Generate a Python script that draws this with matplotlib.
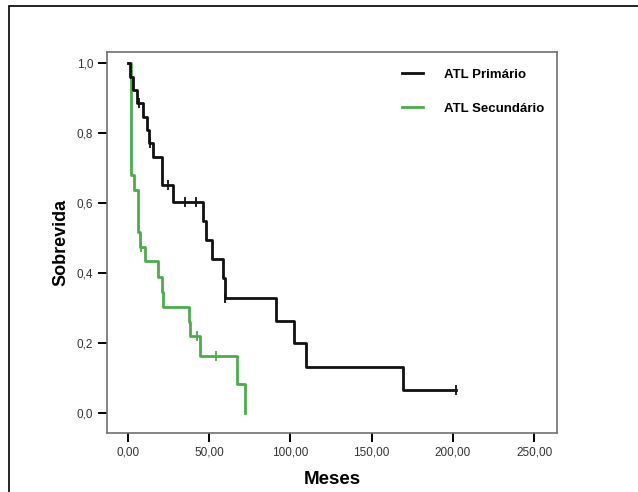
import numpy as np
import matplotlib
matplotlib.use('Agg')
import matplotlib.pyplot as plt
from matplotlib.patches import Rectangle
from matplotlib.ticker import FuncFormatter

plt.rcParams['font.family'] = ['Liberation Sans', 'DejaVu Sans']

# Kaplan-Meier steps (time in months, survival after the drop)
t_pri = [0, 1.2, 3.5, 5.5, 9.2, 11.7, 13.3, 15.4, 20.9, 27.7, 46.1, 48.1, 51.6,
         58.4, 59.8, 91.1, 102.4, 109.4, 169.4, 201.8]
s_pri = [1.0, 0.962, 0.924, 0.887, 0.847, 0.81, 0.771, 0.731, 0.652, 0.605, 0.55,
         0.495, 0.44, 0.386, 0.33, 0.264, 0.2, 0.133, 0.0667, 0.0667]
cens_t_pri = [7.1, 14.0, 25.0, 35.2, 41.8, 59.9, 201.8]
cens_s_pri = [0.887, 0.771, 0.652, 0.605, 0.605, 0.33, 0.0667]

t_sec = [0, 1.8, 2.2, 3.7, 6.3, 7.4, 10.4, 18.8, 20.9, 21.7, 37.7, 38.5, 44.4, 67.0, 72.1]
s_sec = [1.0, 0.88, 0.68, 0.637, 0.519, 0.476, 0.436, 0.39, 0.347, 0.305, 0.262,
         0.22, 0.164, 0.083, 0.0]
cens_t_sec = [8.4, 42.4, 54.3]
cens_s_sec = [0.476, 0.22, 0.164]

xticks = [0, 50, 100, 150, 200, 250]
yticks = [0.0, 0.2, 0.4, 0.6, 0.8, 1.0]

black = '#111111'
green = '#4aad4a'

fig = plt.figure(figsize=(6.38, 4.92), dpi=100)
ax = fig.add_axes([107/638, 1-433/492, 450/638, 381/492])

# outer frame (only top and left visible)
fig.patches.append(Rectangle((9/638, -0.1), 1.2, 1.1 - 6/492, transform=fig.transFigure,
                             fill=False, edgecolor='black', lw=1.2))

ax.step(t_sec, s_sec, where='post', color=green, lw=2.0, label='ATL Secundário')
ax.plot(cens_t_sec, cens_s_sec, ls='none', marker='|', ms=7, mew=1.3, color=green)
ax.step(t_pri, s_pri, where='post', color=black, lw=2.0, label='ATL Primário')
ax.plot(cens_t_pri, cens_s_pri, ls='none', marker='|', ms=7, mew=1.3, color=black)

ax.set_xlim(-12.7, 264)
ax.set_ylim(-0.056, 1.032)
ax.set_xticks(xticks)
ax.set_yticks(yticks)
ax.xaxis.set_major_formatter(FuncFormatter(lambda v, _: f"{v:.2f}".replace('.', ',')))
ax.yaxis.set_major_formatter(FuncFormatter(lambda v, _: f"{v:.1f}".replace('.', ',')))
ax.tick_params(direction='out', length=6.5, width=1.4, color='black',
               labelsize=8.5, labelcolor='#333333')
ax.tick_params(axis='x', pad=3)
ax.tick_params(axis='y', pad=3.5)
for sp in ax.spines.values():
    sp.set_color('#707070')
    sp.set_linewidth(1.2)

ax.set_xlabel('Meses', fontsize=13.5, fontweight='bold', labelpad=9)
ax.set_ylabel('Sobrevida', fontsize=13, fontweight='bold', labelpad=5)

h, l = ax.get_legend_handles_labels()
ax.legend(h[::-1], l[::-1], frameon=False, loc='upper left',
          bbox_to_anchor=((401.7-107)/450, (433-68.5)/381),
          borderpad=0, borderaxespad=0, handlelength=1.6, handletextpad=1.6,
          labelspacing=1.65, prop={'weight': 'bold', 'size': 9.5})

fig.savefig('out.png', dpi=100)
